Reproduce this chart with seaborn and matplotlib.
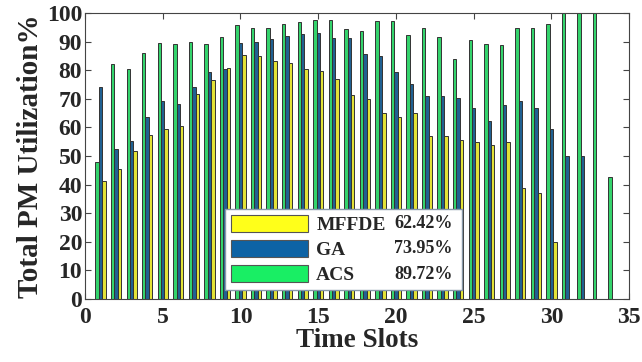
import pandas as pd
import seaborn as sns
import matplotlib.pyplot as plt
import numpy as np
from matplotlib.patches import Patch

sns.set_style("ticks")
plt.rcParams['font.family'] = ['Liberation Serif', 'DejaVu Serif']
plt.rcParams['font.weight'] = 'bold'

# data
slots = list(range(1, 35))
acs = [47.8, 82.2, 80.4, 85.9, 89.5, 89.3, 89.9, 89.3, 91.5, 95.9,
       94.9, 94.9, 96.2, 96.9, 97.6, 97.6, 94.5, 93.8, 97.2, 97.2,
       92.2, 94.8, 91.7, 84.1, 90.4, 89.2, 88.8, 94.9, 94.9, 96.3,
       100, 100, 100, 42.5]
ga = [74.0, 52.4, 55.1, 63.6, 69.3, 68.3, 74.0, 79.5, 80.3, 89.5,
      89.9, 90.8, 92.0, 92.5, 93.1, 91.1, 91.3, 85.5, 85.0, 79.4,
      75.3, 71.0, 71.0, 70.2, 66.7, 62.2, 67.9, 69.2, 66.7, 59.4,
      50.1, 50.1, np.nan, np.nan]
mffde = [41.3, 45.3, 51.7, 57.2, 59.6, 60.5, 71.6, 76.5, 80.7, 85.4,
         85.1, 83.1, 82.4, 80.3, 79.7, 76.8, 71.2, 69.9, 65.2, 63.5,
         64.9, 57.1, 56.9, 55.5, 55.0, 53.7, 54.8, 38.9, 36.9, 20.0,
         np.nan, np.nan, np.nan, np.nan]
algs = ['MFFDE', 'GA', 'ACS']
averages = ['62.42%', '73.95%', '89.72%']
colors = {'MFFDE': '#FFFF1A', 'GA': '#0D63A5', 'ACS': '#19EE64'}

df = pd.DataFrame({
    'slot': slots * 3,
    'util': acs + ga + mffde,
    'alg': ['ACS'] * 34 + ['GA'] * 34 + ['MFFDE'] * 34,
}).dropna()

fig = plt.figure(figsize=(6.42, 3.62), dpi=100)
ax = fig.add_axes([0.1324, 0.174, 0.8476, 0.79])

sns.barplot(data=df, x='slot', y='util', hue='alg',
            hue_order=['ACS', 'GA', 'MFFDE'], palette=colors,
            native_scale=True, width=0.66, errorbar=None,
            edgecolor='#333333', linewidth=0.7, legend=False, ax=ax)

ax.set_xlim(0, 35)
ax.set_ylim(0, 100)
ax.set_xticks(range(0, 36, 5))
ax.set_yticks(range(0, 101, 10))
ax.tick_params(direction='in', top=True, right=True, length=4, color='#444444')
ax.tick_params(axis='x', labelsize=17, pad=6)
ax.tick_params(axis='y', labelsize=17, pad=2)
for lab in ax.get_xticklabels() + ax.get_yticklabels():
    lab.set_fontweight('bold')
for sp in ax.spines.values():
    sp.set_color('#444444')
    sp.set_linewidth(0.8)

ax.set_xlabel('Time Slots', fontsize=19.5, fontweight='bold', labelpad=0)
ax.set_ylabel('Total PM Utilization%', fontsize=21, fontweight='bold', labelpad=2)

handles = [Patch(facecolor=colors[a], edgecolor='#555555', linewidth=0.8) for a in algs]
leg = ax.legend(handles, algs, loc='lower left',
                bbox_to_anchor=(0.257, 0.031, 0.436, 0.28), mode='expand',
                borderaxespad=0,
                prop={'family': 'Liberation Serif', 'weight': 'bold', 'size': 14},
                handlelength=4.0, handleheight=1.0, labelspacing=0.3,
                handletextpad=0.4, borderpad=0.3, fancybox=False,
                framealpha=1, edgecolor='#8899AA')
leg.get_frame().set_linewidth(1.0)

# average utilisation next to each legend entry
row_y = [0.264, 0.178, 0.087]
for txt, yy in zip(averages, row_y):
    ax.text(0.676, yy, txt, transform=ax.transAxes, ha='right', va='center',
            fontsize=13, fontweight='bold', zorder=10)

fig.savefig('out.png', dpi=100)
